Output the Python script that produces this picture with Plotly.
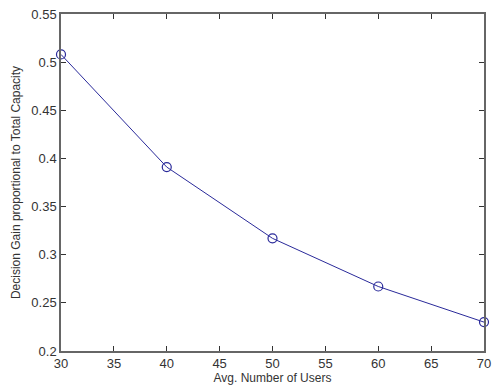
import plotly.graph_objects as go

users = [30, 40, 50, 60, 70]
gain = [0.508, 0.391, 0.317, 0.267, 0.230]

x_ticks = [30, 35, 40, 45, 50, 55, 60, 65, 70]
y_ticks = [0.2, 0.25, 0.3, 0.35, 0.4, 0.45, 0.5, 0.55]
y_tick_text = ["0.2", "0.25", "0.3", "0.35", "0.4", "0.45", "0.5", "0.55"]

fig = go.Figure()
fig.add_trace(go.Scatter(
    x=users, y=gain, mode="lines+markers",
    line=dict(color="#2a2a9a", width=1),
    marker=dict(symbol="circle-open", size=9, color="#2a2a9a", line=dict(width=1.2)),
    cliponaxis=False, showlegend=False,
))

axis_common = dict(
    showgrid=False, zeroline=False, showline=True, linecolor="#666666", linewidth=1.5,
    mirror="ticks", ticks="inside", ticklen=5, tickcolor="#333333", tickwidth=1,
    tickfont=dict(family="Liberation Sans, Arial", size=13, color="#333333"),
    ticklabeloverflow="allow",
)

fig.update_layout(
    width=493, height=390,
    margin=dict(l=61, r=2, t=14, b=39),
    paper_bgcolor="white", plot_bgcolor="white",
    xaxis=dict(range=[30, 70], tickvals=x_ticks, ticktext=[str(v) for v in x_ticks],
               title=dict(text="Avg. Number of Users", standoff=2,
                          font=dict(family="Liberation Sans, Arial", size=12, color="#333333")),
               **axis_common),
    yaxis=dict(range=[0.2, 0.55], tickvals=y_ticks, ticktext=y_tick_text,
               title=dict(text="Decision Gain proportional to Total Capacity", standoff=8,
                          font=dict(family="Liberation Sans, Arial", size=12, color="#333333")),
               **axis_common),
)

fig.write_html("out.html")
